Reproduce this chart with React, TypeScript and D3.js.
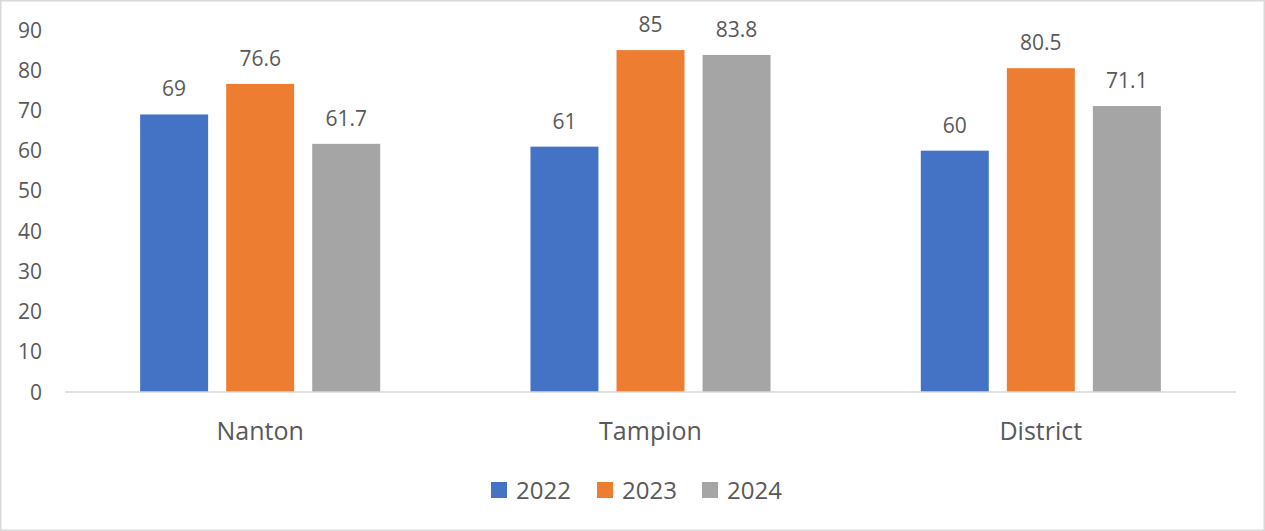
import React from "react";
import { scaleBand, scaleLinear, range } from "d3";

const categories = ["Nanton", "Tampion", "District"];
const years = ["2022", "2023", "2024"];
const values2022 = [69, 61, 60];
const values2023 = [76.6, 85, 80.5];
const values2024 = [61.7, 83.8, 71.1];
const yTicks = range(0, 100, 10);

const series = [values2022, values2023, values2024];
const colors = ["#4472C4", "#ED7D31", "#A5A5A5"];

const W = 1265;
const H = 531;
const font = "'Open Sans', sans-serif";
const textColor = "#595959";

export default function App() {
  const xScale = scaleBand().domain(categories).range([65, 1236]);
  const yScale = scaleLinear().domain([0, 90]).range([392, 30]);

  // bars inside each category take ~61% of the band
  const groupW = xScale.bandwidth() * 0.615;
  const sub = scaleBand()
    .domain(years)
    .range([0, groupW])
    .paddingInner(0.21)
    .paddingOuter(0);

  const legendX = [491, 597, 702];

  return (
    <div style={{ position: "absolute", left: 0, top: 0 }}>
      <svg width={W} height={H} style={{ display: "block" }}>
        <rect x={0} y={0} width={W} height={H} fill="#fff" />
        <rect
          x={0.75}
          y={0.75}
          width={W - 1.5}
          height={H - 1.5}
          fill="none"
          stroke="#D9D9D9"
          strokeWidth={1.5}
        />

        {/* y tick labels */}
        {yTicks.map((t) => (
          <text
            key={t}
            x={42}
            y={yScale(t)}
            dy="0.36em"
            textAnchor="end"
            fontFamily={font}
            fontSize={21}
            fill={textColor}
          >
            {t}
          </text>
        ))}

        {/* bars */}
        {categories.map((c, ci) => {
          const x0 = xScale(c)! + (xScale.bandwidth() - groupW) / 2;
          return (
            <g key={c}>
              {years.map((yr, si) => {
                const v = series[si][ci];
                const x = x0 + sub(yr)!;
                return (
                  <g key={yr}>
                    <rect
                      x={x}
                      y={yScale(v)}
                      width={sub.bandwidth()}
                      height={yScale(0) - yScale(v)}
                      fill={colors[si]}
                    />
                    <text
                      x={x + sub.bandwidth() / 2}
                      y={yScale(v) - 18}
                      textAnchor="middle"
                      fontFamily={font}
                      fontSize={21}
                      fill={textColor}
                    >
                      {v}
                    </text>
                  </g>
                );
              })}
            </g>
          );
        })}

        {/* x axis */}
        <line
          x1={65}
          x2={1236}
          y1={yScale(0)}
          y2={yScale(0)}
          stroke="#D9D9D9"
          strokeWidth={1.5}
        />
        {categories.map((c) => (
          <text
            key={c}
            x={xScale(c)! + xScale.bandwidth() / 2}
            y={440}
            textAnchor="middle"
            fontFamily={font}
            fontSize={25}
            fill={textColor}
          >
            {c}
          </text>
        ))}

        {/* legend */}
        {years.map((yr, i) => (
          <g key={yr}>
            <rect x={legendX[i]} y={482} width={16} height={16} fill={colors[i]} />
            <text
              x={legendX[i] + 25}
              y={499}
              fontFamily={font}
              fontSize={24}
              fill={textColor}
            >
              {yr}
            </text>
          </g>
        ))}
      </svg>
    </div>
  );
}
